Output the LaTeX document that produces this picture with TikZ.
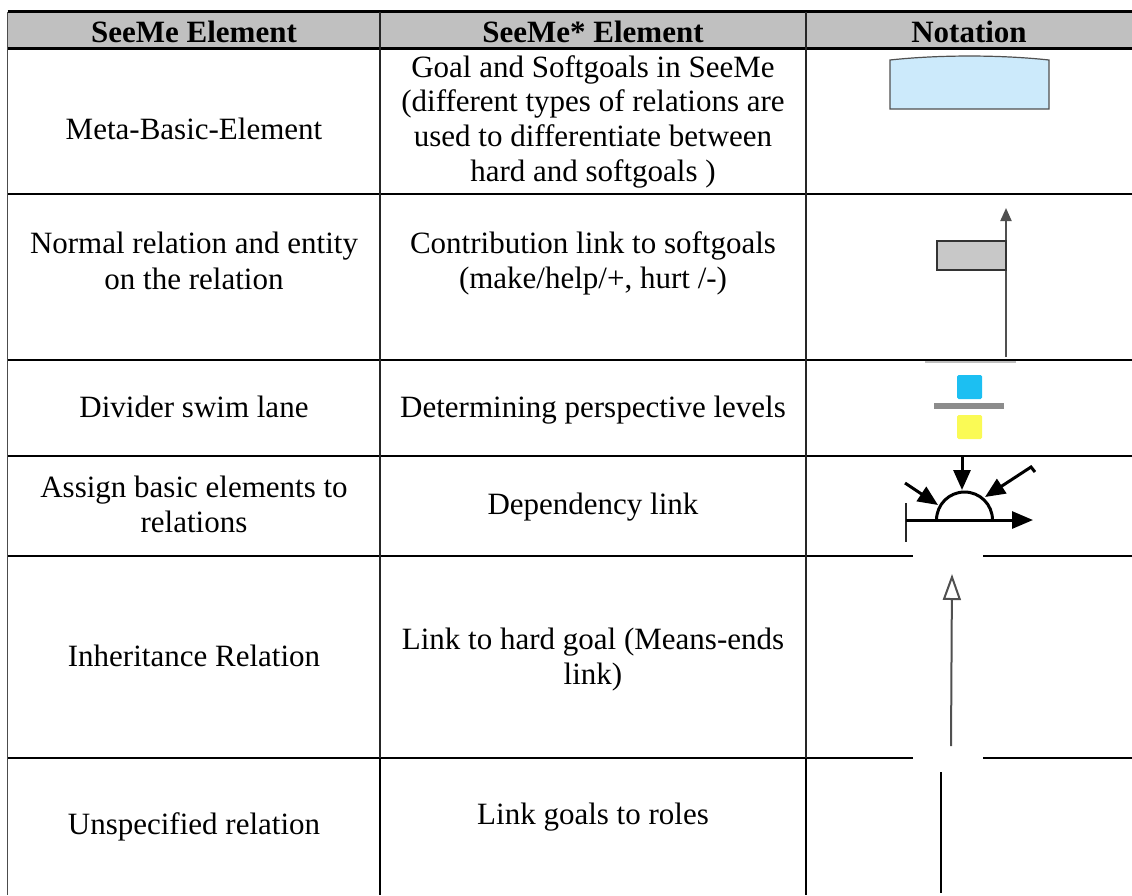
\documentclass[tikz,border=0pt]{standalone}
\usepackage{fontspec}
\setmainfont{Liberation Serif}
\usetikzlibrary{arrows.meta}

\definecolor{headgray}{HTML}{C0C0C0}
\definecolor{goalblue}{HTML}{CCEAFB}
\definecolor{flaggray}{HTML}{C8C8C8}
\definecolor{lanecyan}{HTML}{1CBFF2}
\definecolor{laneyellow}{HTML}{FAFA55}
\definecolor{inkgray}{HTML}{505050}

\begin{document}
\begin{tikzpicture}[x=1pt,y=-1pt,
  cell/.style={anchor=base, inner sep=0pt, text=black,
    font=\fontsize{31}{35}\selectfont},
  headcell/.style={cell, font=\fontsize{31}{35}\selectfont\bfseries},
  hrule/.style={line width=2.2pt, black},
  vrule/.style={line width=1.6pt, black!85},
  edgerule/.style={line width=1.3pt, black!70},
  fliptip/.style={-{Triangle[length=20pt,width=17pt]}},
  deplink/.style={line width=3pt, black},
]
\useasboundingbox (0,0) rectangle (1132,895);

% ---------- table frame ----------
\fill[headgray] (7.5,11.5) rectangle (1132,48);
\draw[hrule] (7.5,11.5) -- (1132,11.5);
\draw[line width=3pt] (7.5,48) -- (1132,48);
\foreach \y in {194,360,456}
  \draw[hrule] (7.5,\y) -- (1132,\y);
\foreach \y in {556,758} {
  \draw[hrule] (7.5,\y) -- (913,\y);
  \draw[hrule] (983,\y) -- (1132,\y);
}
\draw[edgerule] (7.5,11.5) -- (7.5,895);
\foreach \x in {380,806} {
  \draw[vrule] (\x,11.5) -- (\x,758);
  \draw[line width=2.4pt] (\x,758) -- (\x,895);
}

% ---------- header ----------
\node[headcell] (h1) at (194,42.5) {SeeMe Element};
\node[headcell] (h2) at (593,42.5) {SeeMe* Element};
\node[headcell] (h3) at (969,42.5) {Notation};

% ---------- first column ----------
\node[cell] (a1)  at (194,139) {Meta-Basic-Element};
\node[cell] (a2a) at (194,253) {Normal relation and entity};
\node[cell] (a2b) at (194,289) {on the relation};
\node[cell] (a3)  at (194,417) {Divider swim lane};
\node[cell] (a4a) at (194,497) {Assign basic elements to};
\node[cell] (a4b) at (194,532) {relations};
\node[cell] (a5)  at (194,666) {Inheritance Relation};
\node[cell] (a6)  at (194,834) {Unspecified relation};

% ---------- second column ----------
\node[cell] (b1a) at (593,77)  {Goal and Softgoals in SeeMe};
\node[cell] (b1b) at (593,111.7) {(different types of relations are};
\node[cell] (b1c) at (593,146.4) {used to differentiate between};
\node[cell] (b1d) at (593,181) {hard and softgoals )};
\node[cell] (b2a) at (593,253) {Contribution link to softgoals};
\node[cell] (b2b) at (593,288) {(make/help/+, hurt /-)};
\node[cell] (b3)  at (593,417) {Determining perspective levels};
\node[cell] (b4)  at (593,514) {Dependency link};
\node[cell] (b5a) at (593,649) {Link to hard goal (Means-ends};
\node[cell] (b5b) at (593,684) {link)};
\node[cell] (b6)  at (593,824) {Link goals to roles};

% ---------- notation: goal / softgoal ----------
\filldraw[fill=goalblue, draw=inkgray, line width=1.2pt]
  (890,60) -- (890,109) -- (1049,109) -- (1049,60)
  .. controls (1000,54.7) and (939,54.7) .. (890,60) -- cycle;

% ---------- notation: contribution link ----------
\coordinate (c2from) at (1006,357);
\coordinate (c2to) at (1006,208);
\draw[line width=2pt, inkgray, -{Triangle[length=13pt,width=11pt]}] (c2from) -- (c2to);
\filldraw[fill=flaggray, draw=black!80, line width=1.2pt] (937,241) rectangle (1006,270);
\draw[line width=2pt, black!25] (925,362) -- (1016,362);

% ---------- notation: swim lane divider ----------
\fill[lanecyan, rounded corners=1.5pt] (957,375) rectangle (982,399);
\fill[black!45] (934,403) rectangle (1004,409);
\fill[laneyellow, rounded corners=1.5pt] (957,415) rectangle (982,439);

% ---------- notation: dependency link ----------
\coordinate (dbase) at (906,520);
\coordinate (dend) at (1033,520);
\coordinate (dtop) at (962,457);
\coordinate (dtopin) at (962,490);
\coordinate (dleft) at (905,483);
\coordinate (dleftin) at (938,505);
\coordinate (dhook) at (1035,472);
\coordinate (dright) at (1031,467);
\coordinate (drightin) at (985,497);
\draw[line width=1.6pt, black!85] (906,503) -- (906,542);
\draw[deplink, -{Triangle[length=21pt,width=17pt]}] (dbase) -- (dend);
\draw[deplink]
  (936.5,520) .. controls (936.5,504.54) and (949.04,492) .. (964.5,492)
  .. controls (979.96,492) and (992.5,504.54) .. (992.5,520);
\draw[deplink, fliptip] (dtop) -- (dtopin);
\draw[deplink, fliptip] (dleft) -- (dleftin);
\draw[deplink, fliptip] (dhook) -- (dright) -- (drightin);

% ---------- notation: means-ends link ----------
\coordinate (m5from) at (951,746);
\coordinate (m5to) at (952,574);
\draw[line width=2pt, inkgray, -{Triangle[open,length=26pt,width=18pt]}] (m5from) -- (m5to);

% ---------- notation: link to roles ----------
\coordinate (r6top) at (941,772);
\coordinate (r6bot) at (941,893);
\draw[line width=2.2pt, black] (r6top) -- (r6bot);

\end{tikzpicture}
\end{document}
